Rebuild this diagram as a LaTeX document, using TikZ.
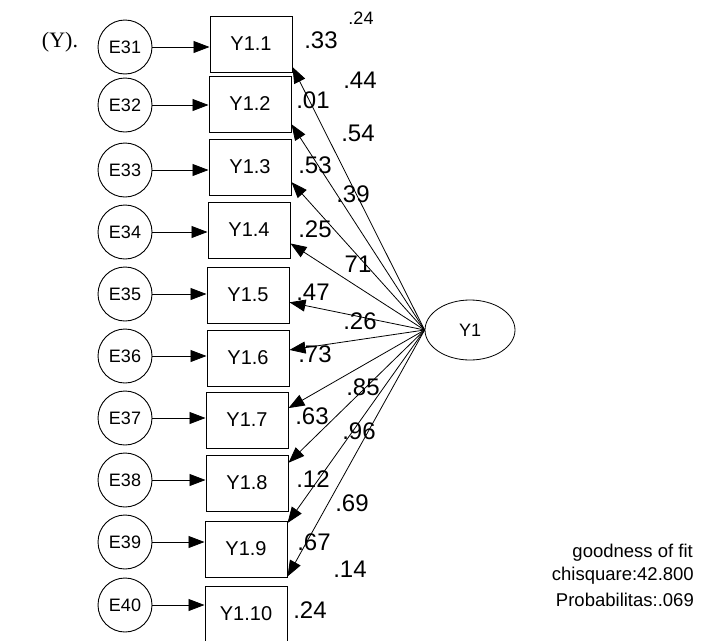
\documentclass[tikz,border=0pt]{standalone}
\usepackage{fontspec}
\setmainfont{Liberation Sans}
\newfontfamily\serifface{Liberation Serif}
\usetikzlibrary{arrows.meta,shapes.geometric,calc}

\begin{document}
\begin{tikzpicture}[x=1pt,y=-1pt,
  errvar/.style={circle,draw,line width=0.9pt,minimum size=54pt,inner sep=0pt,
    font=\fontsize{18}{18}\selectfont},
  indicator/.style={rectangle,draw,line width=1pt,minimum width=82pt,
    minimum height=56pt,inner sep=0pt,font=\fontsize{20}{20}\selectfont},
  latentvar/.style={ellipse,draw,line width=0.8pt,minimum width=90pt,
    minimum height=60pt,inner sep=0pt,font=\fontsize{18}{18}\selectfont},
  regline/.style={line width=0.8pt,-{Triangle[length=16pt,width=12pt]}},
  coef/.style={font=\fontsize{24}{24}\selectfont,inner sep=0pt},
  note/.style={font=\fontsize{18.5}{18.5}\selectfont,inner sep=0pt,anchor=east},
]
\useasboundingbox (0,0) rectangle (703,640);

% caption fragment
\node[font=\serifface\fontsize{22}{22}\selectfont,inner sep=0pt] (cap) at (60,42) {(Y).};

% error terms
\foreach \i/\yy in {31/47,32/105,33/170,34/232,35/294,36/356,37/418,38/480,39/542,40/605}
  \node[errvar] (e\i) at (125,\yy) {E\i};

% observed indicators
\node[indicator] (b1)  at (251,44)  {Y1.1};
\node[indicator] (b2)  at (250,104) {Y1.2};
\node[indicator] (b3)  at (250,167) {Y1.3};
\node[indicator] (b4)  at (249,230) {Y1.4};
\node[indicator] (b5)  at (248,295) {Y1.5};
\node[indicator] (b6)  at (248,358) {Y1.6};
\node[indicator] (b7)  at (247,420) {Y1.7};
\node[indicator] (b8)  at (247,483) {Y1.8};
\node[indicator] (b9)  at (246,549) {Y1.9};
\node[indicator] (b10) at (246,614) {Y1.10};

% latent construct
\node[latentvar] (y1) at (470,330) {Y1};

% error -> indicator
\foreach \i/\j in {31/1,32/2,33/3,34/4,35/5,36/6,37/7,38/8,39/9,40/10}
  \draw[regline] (e\i) -- (e\i -| b\j.west);

% loadings
\coordinate (t10) at ($(b10.north east)+(0,-9)$);
\draw[regline] (y1.west) -- (b1.-29);
\draw[regline] (y1.west) -- (b2.-26);
\draw[regline] (y1.west) -- (b3.-20);
\draw[regline] (y1.west) -- (b4.-18);
\draw[regline] (y1.west) -- (b5.-10);
\draw[regline] (y1.west) -- (b6.11);
\draw[regline] (y1.west) -- (b7.16);
\draw[regline] (y1.west) -- (b8.26);
\draw[regline] (y1.west) -- (b9.32);
\draw[regline] (y1.west) -- (t10);

% coefficients
\node[font=\fontsize{18}{18}\selectfont,inner sep=0pt] (r0) at (361,18) {.24};
\node[coef] (r1)  at (321,40)  {.33};
\node[coef] (s1)  at (360,80)  {.44};
\node[coef] (r2)  at (313,100) {.01};
\node[coef] (s2)  at (358,133) {.54};
\node[coef] (r3)  at (315,165) {.53};
\node[coef] (s3)  at (353,194) {.39};
\node[coef] (r4)  at (315,229) {.25};
\node[coef] (s4)  at (358,264) {71};
\node[coef] (r5)  at (313,292) {.47};
\node[coef] (s5)  at (360,321) {.26};
\node[coef] (r6)  at (315,354) {.73};
\node[coef] (s6)  at (363,387) {.85};
\node[coef] (r7)  at (312,416) {.63};
\node[coef] (s7)  at (359,431) {.96};
\node[coef] (r8)  at (313,479) {.12};
\node[coef] (s8)  at (352,503) {.69};
\node[coef] (r9)  at (314,542) {.67};
\node[coef] (s9)  at (350,569) {.14};
\node[coef] (r10) at (310,610) {.24};

% fit summary
\node[note] (fit1) at (693,553) {goodness of fit};
\node[note] (fit2) at (694,576) {chisquare:42.800};
\node[note] (fit3) at (694,600) {Probabilitas:.069};
\end{tikzpicture}
\end{document}
